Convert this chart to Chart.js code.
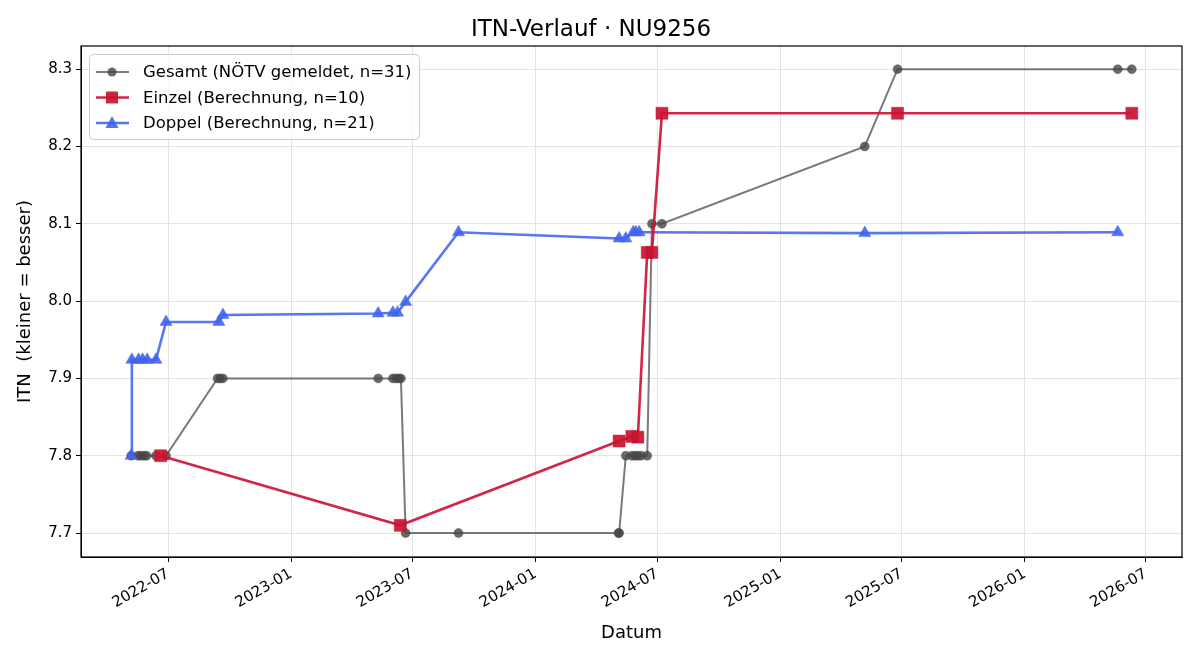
<!DOCTYPE html>
<html>
<head>
<meta charset="utf-8">
<script src="https://cdn.jsdelivr.net/npm/chart.js@4/dist/chart.umd.min.js"></script>
<style>
  html, body { margin: 0; padding: 0; background: #fff; }
  #wrap { width: 1200px; height: 660px; }
</style>
</head>
<body>
<div id="wrap"><canvas id="itn" width="1200" height="660"></canvas></div>
<script>
// Gesamt (NÖTV gemeldet)
const gesamtDates = [
  "2022-05-07", "2022-05-17", "2022-05-21", "2022-05-26", "2022-05-30", "2022-06-13", "2022-06-28",
  "2022-09-13", "2022-09-17", "2022-09-21",
  "2023-05-11", "2023-06-02", "2023-06-07", "2023-06-11", "2023-06-14",
  "2023-06-21", "2023-09-08",
  "2024-05-04", "2024-05-05",
  "2024-05-15", "2024-05-24", "2024-05-29", "2024-06-02", "2024-06-07", "2024-06-16",
  "2024-06-23", "2024-07-08",
  "2025-05-07", "2025-06-25", "2026-05-20", "2026-06-10"
];
const gesamtItn = [
  7.8, 7.8, 7.8, 7.8, 7.8, 7.8, 7.8,
  7.9, 7.9, 7.9,
  7.9, 7.9, 7.9, 7.9, 7.9,
  7.7, 7.7,
  7.7, 7.7,
  7.8, 7.8, 7.8, 7.8, 7.8, 7.8,
  8.1, 8.1,
  8.2, 8.3, 8.3, 8.3
];

// Einzel (Berechnung)
const einzelDates = [
  "2022-06-20", "2023-06-13", "2024-05-05", "2024-05-24", "2024-06-02",
  "2024-06-16", "2024-06-23", "2024-07-08", "2025-06-25", "2026-06-10"
];
const einzelItn = [7.8, 7.71, 7.819, 7.825, 7.824, 8.063, 8.063, 8.243, 8.243, 8.243];

// Doppel (Berechnung)
const doppelDates = [
  "2022-05-07", "2022-05-08", "2022-05-18", "2022-05-24", "2022-05-31", "2022-06-13",
  "2022-06-28", "2022-09-15", "2022-09-21",
  "2023-05-11", "2023-06-02", "2023-06-09", "2023-06-21", "2023-09-08",
  "2024-05-05", "2024-05-15", "2024-05-26", "2024-05-30", "2024-06-04",
  "2025-05-07", "2026-05-20"
];
const doppelItn = [
  7.8, 7.924, 7.924, 7.924, 7.924, 7.924,
  7.973, 7.973, 7.982,
  7.984, 7.985, 7.985, 7.999, 8.089,
  8.081, 8.081, 8.089, 8.089, 8.089,
  8.088, 8.089
];

const xTickMonths = ["2022-07", "2023-01", "2023-07", "2024-01", "2024-07", "2025-01", "2025-07", "2026-01", "2026-07"];
const yTicks = [7.7, 7.8, 7.9, 8.0, 8.1, 8.2, 8.3];
const xMin = "2022-02-21";
const xMax = "2026-08-24";

const toMs = (s) => {
  const p = s.split("-").map(Number);
  return Date.UTC(p[0], p[1] - 1, p[2] || 1);
};
const pts = (dates, vals) => dates.map((d, i) => ({ x: toMs(d), y: vals[i] }));

Chart.defaults.font.family = "'DejaVu Sans', sans-serif";
Chart.defaults.color = "#000";

// Legende wie bei matplotlib (Linie + Marker)
const legendBox = {
  id: "legendBox",
  afterDatasetsDraw(chart) {
    const ctx = chart.ctx;
    const x0 = 89, y0 = 54, w = 330, h = 85;
    ctx.save();
    ctx.beginPath();
    ctx.roundRect(x0 + 0.5, y0 + 0.5, w, h, 4);
    ctx.fillStyle = "rgba(255,255,255,0.8)";
    ctx.fill();
    ctx.strokeStyle = "#cccccc";
    ctx.lineWidth = 1;
    ctx.stroke();
    const rows = [72, 97.5, 123];
    chart.data.datasets.forEach((ds, i) => {
      const y = rows[i];
      ctx.beginPath();
      ctx.moveTo(96, y);
      ctx.lineTo(129, y);
      ctx.strokeStyle = ds.borderColor;
      ctx.lineWidth = ds.borderWidth;
      ctx.stroke();
      ctx.fillStyle = ds.pointBackgroundColor;
      ctx.beginPath();
      if (ds.pointStyle === "rect") {
        ctx.rect(112 - 6, y - 6, 12, 12);
      } else if (ds.pointStyle === "triangle") {
        ctx.moveTo(112, y - 7);
        ctx.lineTo(118.5, y + 5);
        ctx.lineTo(105.5, y + 5);
        ctx.closePath();
      } else {
        ctx.arc(112, y, 4.5, 0, Math.PI * 2);
      }
      ctx.fill();
      ctx.fillStyle = "#000";
      ctx.font = "16.5px 'DejaVu Sans'";
      ctx.textBaseline = "middle";
      ctx.textAlign = "left";
      ctx.fillText(ds.label, 143, y + 1);
    });
    ctx.restore();
  }
};

// Rahmen um die Plotfläche
const frame = {
  id: "frame",
  afterDraw(chart) {
    const a = chart.chartArea;
    const ctx = chart.ctx;
    ctx.save();
    ctx.strokeStyle = "#000";
    ctx.lineWidth = 1.2;
    ctx.strokeRect(a.left, a.top, a.right - a.left, a.bottom - a.top);
    ctx.restore();
  }
};

new Chart(document.getElementById("itn"), {
  type: "line",
  plugins: [legendBox, frame],
  data: {
    datasets: [
      {
        label: "Gesamt (NÖTV gemeldet, n=31)",
        data: pts(gesamtDates, gesamtItn),
        borderColor: "rgba(85,85,85,0.78)",
        borderWidth: 2,
        pointBackgroundColor: "rgba(70,70,70,0.8)",
        pointBorderColor: "rgba(70,70,70,0.8)",
        pointBorderWidth: 0.5,
        pointStyle: "circle",
        pointRadius: 4.5,
        order: 3
      },
      {
        label: "Einzel (Berechnung, n=10)",
        data: pts(einzelDates, einzelItn),
        borderColor: "rgba(205,20,55,0.92)",
        borderWidth: 2.6,
        pointBackgroundColor: "rgba(200,20,50,0.92)",
        pointBorderColor: "rgba(200,20,50,0.92)",
        pointBorderWidth: 0.5,
        pointStyle: "rect",
        pointRadius: 8.5,
        order: 1
      },
      {
        label: "Doppel (Berechnung, n=21)",
        data: pts(doppelDates, doppelItn),
        borderColor: "rgba(65,100,238,0.88)",
        borderWidth: 2.6,
        pointBackgroundColor: "rgba(65,100,238,0.9)",
        pointBorderColor: "rgba(65,100,238,0.9)",
        pointBorderWidth: 0.5,
        pointStyle: "triangle",
        pointRadius: 7,
        order: 2
      }
    ]
  },
  options: {
    responsive: false,
    animation: false,
    events: [],
    layout: { padding: { left: 0, right: 18, top: 0, bottom: 0 } },
    elements: { line: { tension: 0 } },
    plugins: {
      legend: { display: false },
      tooltip: { enabled: false },
      title: {
        display: true,
        text: "ITN-Verlauf · NU9256",
        font: { size: 23, weight: "normal" },
        color: "#000",
        padding: { top: 16, bottom: 2.4 }
      }
    },
    scales: {
      x: {
        type: "linear",
        min: toMs(xMin),
        max: toMs(xMax),
        afterBuildTicks: (scale) => {
          scale.ticks = xTickMonths.map((m) => ({ value: toMs(m) }));
        },
        afterFit: (scale) => { scale.height = 103; },
        ticks: {
          autoSkip: false,
          minRotation: 30,
          maxRotation: 30,
          font: { size: 15 },
          color: "#000",
          padding: 3,
          callback: (v) => {
            const d = new Date(v);
            return d.getUTCFullYear() + "-" + String(d.getUTCMonth() + 1).padStart(2, "0");
          }
        },
        grid: { color: "#e4e4e4", tickColor: "#000", tickLength: 5, lineWidth: 1 },
        border: { color: "#000" },
        title: {
          display: true,
          text: "Datum",
          font: { size: 18 },
          color: "#000",
          padding: { top: 0, bottom: 16 }
        }
      },
      y: {
        type: "linear",
        min: 7.669,
        max: 8.330,
        afterBuildTicks: (scale) => {
          scale.ticks = yTicks.map((v) => ({ value: v }));
        },
        afterFit: (scale) => { scale.width = 81; },
        ticks: {
          font: { size: 15 },
          color: "#000",
          padding: 4,
          callback: (v) => Number(v).toFixed(1)
        },
        grid: { color: "#e4e4e4", tickColor: "#000", tickLength: 5, lineWidth: 1 },
        border: { color: "#000" },
        title: {
          display: true,
          text: "ITN  (kleiner = besser)",
          font: { size: 18 },
          color: "#000",
          padding: { top: 15, bottom: 0 }
        }
      }
    }
  }
});
</script>
</body>
</html>
